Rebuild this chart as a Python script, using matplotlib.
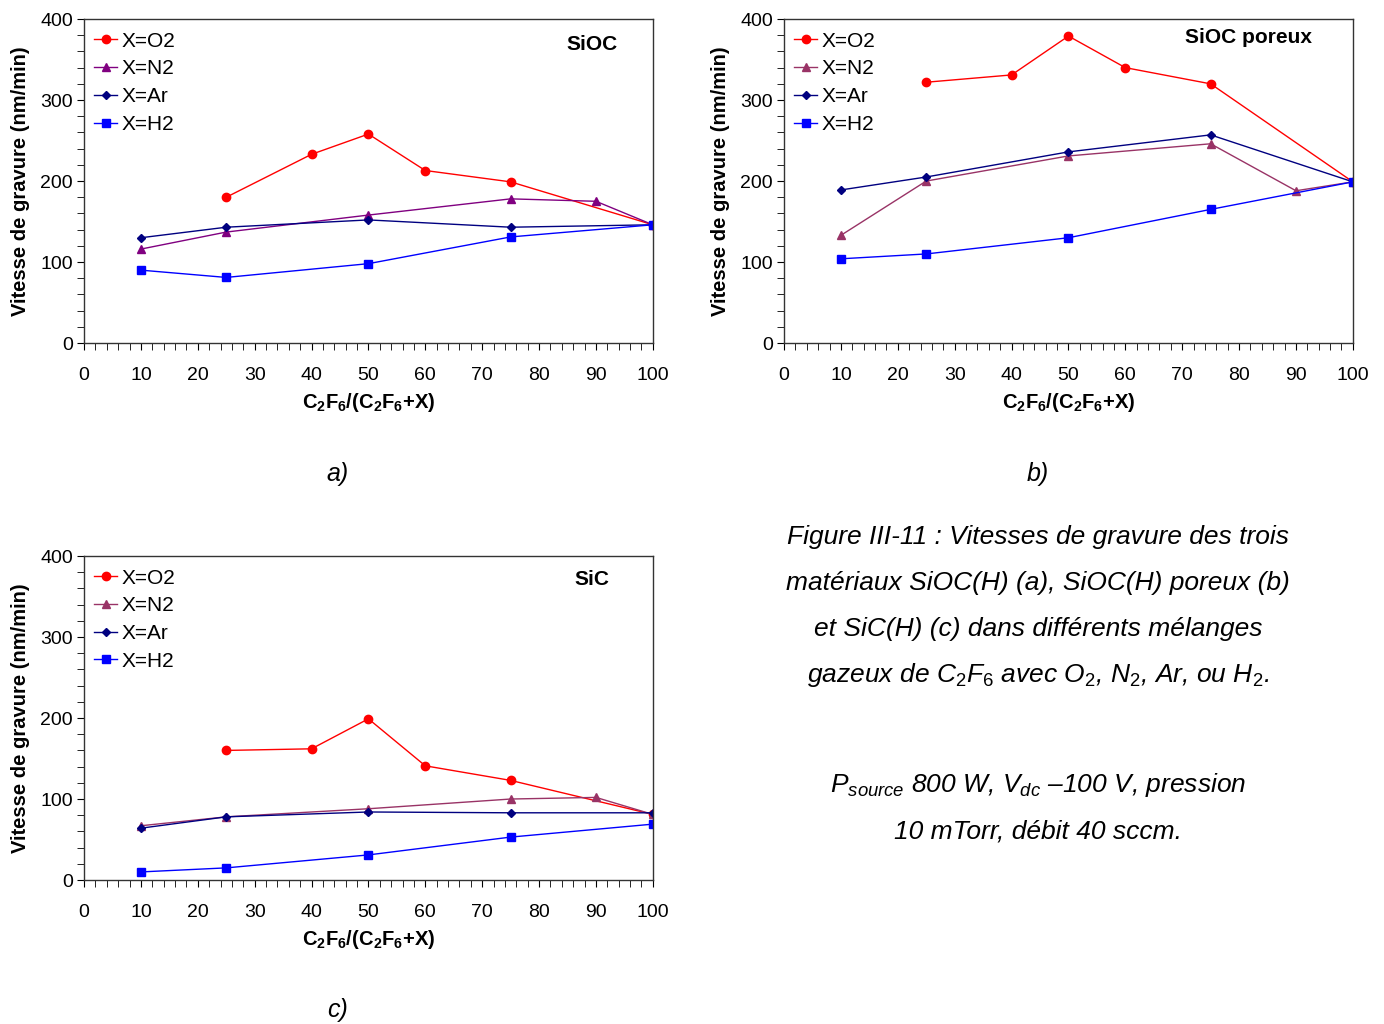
import numpy as np
import matplotlib
matplotlib.use('Agg')
import matplotlib.pyplot as plt
from matplotlib.ticker import MultipleLocator

plt.rcParams['font.family'] = ['Liberation Sans', 'DejaVu Sans']
plt.rcParams['mathtext.fontset'] = 'custom'
plt.rcParams['mathtext.rm'] = 'Liberation Sans'
plt.rcParams['mathtext.it'] = 'Liberation Sans:italic'
plt.rcParams['mathtext.bf'] = 'Liberation Sans:bold'

# x positions: C2F6/(C2F6+X) in %
x_o2 = [25, 40, 50, 60, 75, 100]
x_n2 = [10, 25, 50, 75, 90, 100]
x_ar = [10, 25, 50, 75, 100]
x_h2 = [10, 25, 50, 75, 100]

# a) SiOC
a_o2 = [180, 233, 258, 213, 199, 146]
a_n2 = [116, 137, 158, 178, 175, 146]
a_ar = [130, 143, 152, 143, 146]
a_h2 = [90, 81, 98, 131, 146]

# b) SiOC poreux
b_o2 = [322, 331, 379, 340, 320, 199]
b_n2 = [133, 200, 231, 246, 188, 199]
b_ar = [189, 205, 236, 257, 199]
b_h2 = [104, 110, 130, 165, 199]

# c) SiC
c_o2 = [160, 162, 199, 141, 123, 81]
c_n2 = [67, 78, 88, 100, 102, 81]
c_ar = [64, 78, 84, 83, 83]
c_h2 = [10, 15, 31, 53, 69]

labels = ['X=O2', 'X=N2', 'X=Ar', 'X=H2']


def panel(ax, o2, n2, ar, h2, name, name_pos, n2_color):
    ax.plot(x_o2, o2, color='#FF0000', marker='o', ms=6, lw=1, label=labels[0])
    ax.plot(x_n2, n2, color=n2_color, marker='^', ms=6, lw=1, label=labels[1])
    ax.plot(x_ar, ar, color='#000080', marker='D', ms=4, lw=1, label=labels[2])
    ax.plot(x_h2, h2, color='#0000FF', marker='s', ms=6, lw=1, label=labels[3])
    ax.set_xlim(0, 100)
    ax.set_ylim(0, 400)
    ax.xaxis.set_major_locator(MultipleLocator(10))
    ax.xaxis.set_minor_locator(MultipleLocator(2))
    ax.yaxis.set_major_locator(MultipleLocator(100))
    ax.yaxis.set_minor_locator(MultipleLocator(20))
    ax.tick_params(which='both', direction='out', labelsize=14, color='black', length=5)
    ax.tick_params(axis='x', pad=12.5)
    ax.tick_params(axis='y', pad=3)
    for s in ax.spines.values():
        s.set_linewidth(1)
        s.set_color('#333333')
    ax.set_xlabel(r'C$\mathbf{_2}$F$\mathbf{_6}$/(C$\mathbf{_2}$F$\mathbf{_6}$+X)',
                  fontsize=14.5, fontweight='bold', labelpad=5)
    ax.set_ylabel('Vitesse de gravure (nm/min)', fontsize=14.5, fontweight='bold', labelpad=7)
    ax.text(name_pos[0], name_pos[1], name, transform=ax.transAxes, ha='right', va='center',
            fontsize=15, fontweight='bold')
    ax.legend(loc='upper left', frameon=False, fontsize=15, handlelength=1.1,
              handletextpad=0.2, labelspacing=0.42, borderaxespad=0.2,
              bbox_to_anchor=(-0.004, 1.0))


fig = plt.figure(figsize=(13.84, 10.24), dpi=100)
ax_a = fig.add_axes([0.0607, 0.665, 0.411, 0.3164])
ax_b = fig.add_axes([0.5665, 0.665, 0.411, 0.3164])
ax_c = fig.add_axes([0.0607, 0.1406, 0.411, 0.3164])

panel(ax_a, a_o2, a_n2, a_ar, a_h2, 'SiOC', (0.9385, 0.92), '#800080')
panel(ax_b, b_o2, b_n2, b_ar, b_h2, 'SiOC poreux', (0.928, 0.944), '#993366')
panel(ax_c, c_o2, c_n2, c_ar, c_h2, 'SiC', (0.923, 0.929), '#993366')

fig.text(338 / 1384, 1 - 474 / 1024, 'a)', ha='center', va='center', fontsize=18, style='italic')
fig.text(1038 / 1384, 1 - 474 / 1024, 'b)', ha='center', va='center', fontsize=18, style='italic')
fig.text(338 / 1384, 1 - 1010 / 1024, 'c)', ha='center', va='center', fontsize=18, style='italic')

caption = [
    'Figure III-11 : Vitesses de gravure des trois',
    'matériaux SiOC(H) (a), SiOC(H) poreux (b)',
    'et SiC(H) (c) dans différents mélanges',
    r'gazeux de C$_\mathit{2}$F$_\mathit{6}$ avec O$_\mathit{2}$, N$_\mathit{2}$, Ar, ou H$_\mathit{2}$.',
]
for i, line in enumerate(caption):
    fig.text(1038 / 1384, 1 - (537 + 46 * i) / 1024, line, ha='center', va='center',
             fontsize=19, style='italic')

cond = [
    r'P$_\mathit{source}$ 800 W, V$_\mathit{dc}$ –100 V, pression',
    '10 mTorr, débit 40 sccm.',
]
for i, line in enumerate(cond):
    fig.text(1038 / 1384, 1 - (785 + 46 * i) / 1024, line, ha='center', va='center',
             fontsize=19, style='italic')

fig.savefig('out.png', dpi=100)
